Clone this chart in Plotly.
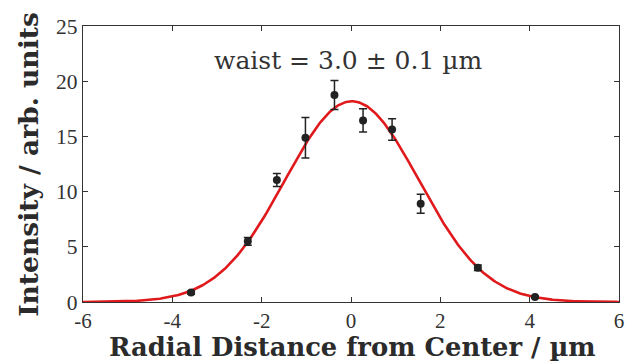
import numpy as np
import plotly.graph_objects as go

x_pos = [-3.58, -2.31, -1.66, -1.02, -0.37, 0.27, 0.92, 1.56, 2.84, 4.12]
intensity = [0.85, 5.5, 11.05, 14.88, 18.75, 16.45, 15.62, 8.9, 3.1, 0.45]
err = [0.15, 0.35, 0.58, 1.83, 1.31, 1.06, 0.98, 0.86, 0.25, 0.1]

# Gaussian fit parameters
fit_amp = 18.18
fit_center = 0.02
fit_waist = 3.0

x_ticks = [-6, -4, -2, 0, 2, 4, 6]
x_tick_text = ["-6", "-4", "-2", "0", "2", "4", "6"]
y_ticks = [0, 5, 10, 15, 20, 25]
y_tick_text = ["0", "5", "10", "15", "20", "25"]

xf = np.linspace(-6, 6, 400)
yf = fit_amp * np.exp(-2 * (xf - fit_center) ** 2 / fit_waist ** 2)

FONT = "Liberation Serif"
TFONT = "DejaVu Serif"
AX = "#333333"
TXT = "#2b2b2b"

fig = go.Figure()
fig.add_trace(go.Scatter(x=xf, y=yf, mode="lines",
                         line=dict(color="#e0191c", width=2.6),
                         showlegend=False, hoverinfo="skip"))
fig.add_trace(go.Scatter(x=x_pos, y=intensity, mode="markers",
                         marker=dict(color="#222222", size=8),
                         error_y=dict(type="data", array=err, visible=True,
                                      color="#222222", thickness=1.5, width=4),
                         showlegend=False))

fig.add_annotation(x=-0.05, y=21.9, text="waist = 3.0 ± 0.1 µm", showarrow=False,
                   font=dict(family=TFONT, size=25, color="#333333"),
                   xanchor="center", yanchor="middle")

# axis titles
fig.add_annotation(x=0.503, y=-0.163, xref="paper", yref="paper",
                   text="<b>Radial Distance from Center / µm</b>", showarrow=False,
                   font=dict(family=TFONT, size=25.8, color=TXT),
                   xanchor="center", yanchor="middle")
fig.add_annotation(x=-0.103, y=0.5, xref="paper", yref="paper",
                   text="<b>Intensity / arb. units</b>", showarrow=False, textangle=-90,
                   font=dict(family=TFONT, size=26.5, color=TXT),
                   xanchor="center", yanchor="middle")

fig.update_layout(
    width=637, height=362,
    margin=dict(l=83, r=18, t=26, b=60, autoexpand=False),
    paper_bgcolor="white", plot_bgcolor="white",
    font=dict(family=FONT, color="#333333"),
)
fig.update_xaxes(range=[-6, 6], tickvals=x_ticks, ticktext=x_tick_text,
                 ticks="inside", ticklen=5, tickcolor=AX, tickwidth=1,
                 showline=True, linecolor=AX, linewidth=1.2, mirror="ticks",
                 showgrid=False, zeroline=False, automargin=False,
                 tickfont=dict(family=FONT, size=21, color="#333333"))
fig.update_yaxes(range=[0, 25], tickvals=y_ticks, ticktext=y_tick_text,
                 ticks="inside", ticklen=5, tickcolor=AX, tickwidth=1,
                 showline=True, linecolor=AX, linewidth=1.2, mirror="ticks",
                 showgrid=False, zeroline=False, automargin=False,
                 tickfont=dict(family=FONT, size=21.5, color="#333333"))

fig.write_html("out.html", config={"displayModeBar": False},
               post_script="document.body.style.margin='0';")
